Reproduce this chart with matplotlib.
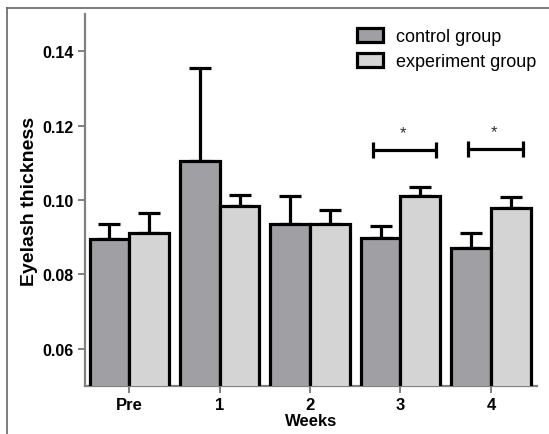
import matplotlib
matplotlib.use("Agg")
import matplotlib.pyplot as plt
import numpy as np
from matplotlib.lines import Line2D

plt.rcParams['font.family'] = ['Liberation Sans', 'DejaVu Sans']

categories = ["Pre", "1", "2", "3", "4"]
control_mean = [0.0895, 0.1106, 0.0935, 0.0897, 0.0870]
control_err = [0.0041, 0.0248, 0.0077, 0.0034, 0.0040]
exp_mean = [0.0911, 0.0985, 0.0935, 0.1010, 0.0978]
exp_err = [0.0054, 0.0029, 0.0039, 0.0026, 0.0031]
series_names = ["control group", "experiment group"]
sig_groups = [3, 4]
sig_y = [0.1134, 0.1137]
yticks = [0.06, 0.08, 0.10, 0.12, 0.14]

W, H = 549, 435
fig = plt.figure(figsize=(W / 100, H / 100), dpi=100)
ax = fig.add_axes([85 / W, 1 - 387 / H, (537 - 85) / W, (387 - 15) / H])

x = np.arange(len(categories))
bw = 0.44
c_ctrl = "#a0a0a4"
c_exp = "#d4d4d4"
lw = 2.3

b1 = ax.bar(x - bw / 2, control_mean, bw, color=c_ctrl, edgecolor="black", linewidth=lw, zorder=3)
b2 = ax.bar(x + bw / 2, exp_mean, bw, color=c_exp, edgecolor="black", linewidth=lw, zorder=3)

ax.errorbar(x - bw / 2, control_mean, yerr=[np.zeros(len(x)), control_err], fmt="none",
            ecolor="black", elinewidth=lw, capsize=8, capthick=lw, zorder=2)
ax.errorbar(x + bw / 2, exp_mean, yerr=[np.zeros(len(x)), exp_err], fmt="none",
            ecolor="black", elinewidth=lw, capsize=8, capthick=lw, zorder=2)

# significance brackets
offsets_l = [-0.30, -0.25]
offsets_r = [0.39, 0.36]
for g, yy, ol, orr in zip(sig_groups, sig_y, offsets_l, offsets_r):
    xs = [g + ol, g + orr]
    ax.plot(xs, [yy, yy], color="black", lw=lw, solid_capstyle="butt", zorder=4)
    ax.plot(xs, [yy, yy], linestyle="none", marker="|", ms=11, mew=lw, color="black", zorder=4)
    ax.text((xs[0] + xs[1]) / 2 - 0.02, yy + 0.0048, "*", ha="center", va="center",
            fontsize=12, color="#333333")

ax.set_xlim(-0.49, 4.51)
ax.set_ylim(0.05, 0.15)
ax.set_yticks(yticks)
ax.set_yticklabels([f"{v:.2f}" for v in yticks])
ax.set_xticks(x)
ax.set_xticklabels(categories)

for s in ["top", "right"]:
    ax.spines[s].set_visible(False)
for s in ["left", "bottom"]:
    ax.spines[s].set_color("#808080")
    ax.spines[s].set_linewidth(1.6)

ax.tick_params(axis="both", direction="out", length=5, width=1.4, color="#808080",
               labelsize=11.5, pad=3)
for lab in ax.get_xticklabels() + ax.get_yticklabels():
    lab.set_fontweight("bold")
ax.tick_params(axis="x", labelsize=12, pad=3)

ax.set_ylabel("Eyelash thickness", fontsize=14, fontweight="bold", labelpad=3)
ax.set_xlabel("Weeks", fontsize=12, fontweight="bold", labelpad=1)

leg = fig.legend([b1, b2], series_names, loc="center left",
                 bbox_to_anchor=(348 / W, 1 - 50 / H), frameon=False,
                 fontsize=13, handlelength=1.45, handleheight=0.8,
                 handletextpad=0.7, labelspacing=0.45, borderpad=0)

# figure frame (top and left)
fig.add_artist(Line2D([7 / W, 1], [1 - 9 / H, 1 - 9 / H], color="#666666", lw=1.2,
                      transform=fig.transFigure))
fig.add_artist(Line2D([7 / W, 7 / W], [0, 1 - 9 / H], color="#666666", lw=1.2,
                      transform=fig.transFigure))

fig.savefig("out.png", dpi=100)
